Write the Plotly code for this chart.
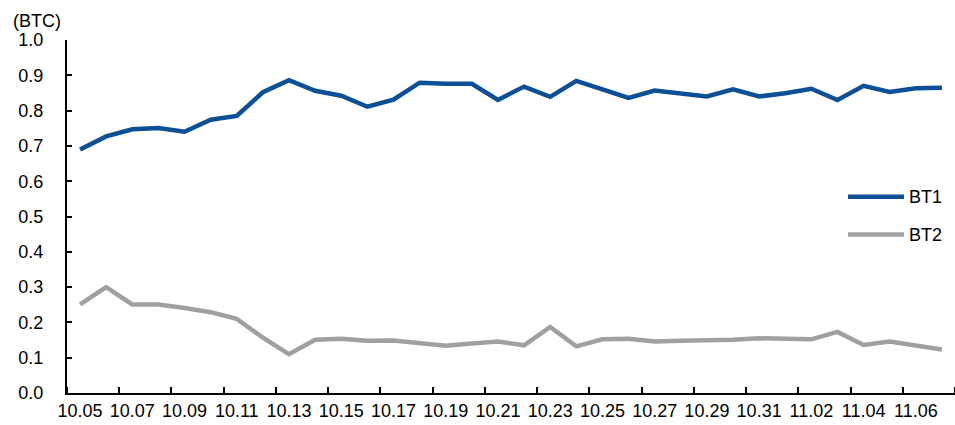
import plotly.graph_objects as go
import pandas as pd

# Daily dates, 10.05 through 11.07
dates = pd.date_range("2023-10-05", "2023-11-07", freq="D")

bt1 = [0.690, 0.727, 0.747, 0.751, 0.740, 0.774, 0.785, 0.852, 0.886, 0.856,
       0.842, 0.811, 0.831, 0.879, 0.876, 0.876, 0.830, 0.868, 0.839, 0.884,
       0.860, 0.836, 0.857, 0.849, 0.840, 0.860, 0.840, 0.849, 0.862, 0.830,
       0.870, 0.853, 0.863, 0.865]

bt2 = [0.251, 0.300, 0.251, 0.251, 0.241, 0.229, 0.210, 0.157, 0.110, 0.151,
       0.154, 0.148, 0.149, 0.142, 0.134, 0.140, 0.146, 0.135, 0.187, 0.132,
       0.152, 0.154, 0.146, 0.148, 0.149, 0.151, 0.155, 0.152, 0.152, 0.173,
       0.136, 0.146, 0.134, 0.123]

series_names = ["BT1", "BT2"]
series_colors = ["#0B4F97", "#A0A0A0"]

FONT = "Liberation Sans Narrow, Arial Narrow, Liberation Sans, Arial, sans-serif"
FS = 18
DAY_MS = 86400000

fig = go.Figure()
for name, vals, color in zip(series_names, [bt1, bt2], series_colors):
    fig.add_trace(go.Scatter(
        x=dates, y=vals, mode="lines", name=name,
        line=dict(color=color, width=4.5),
        showlegend=False,
    ))

# Hand-drawn legend on the right side of the plot area
legend_y = [0.556, 0.449]
for name, color, ly in zip(series_names, series_colors, legend_y):
    fig.add_shape(type="line", xref="paper", yref="paper",
                  x0=0.8795, x1=0.9426, y0=ly, y1=ly,
                  line=dict(color=color, width=4.5))
    fig.add_annotation(xref="paper", yref="paper", x=0.946, y=ly,
                       text=name, showarrow=False, xanchor="left",
                       yanchor="middle", font=dict(size=FS, color="black"))

# Unit label above the y axis
fig.add_annotation(xref="paper", yref="paper", x=-0.063, y=1.053,
                   text="(BTC)", showarrow=False, xanchor="left",
                   yanchor="middle", font=dict(size=FS, color="black"))

fig.update_layout(
    width=955, height=425,
    margin=dict(l=67, r=0, t=40, b=32),
    paper_bgcolor="white", plot_bgcolor="white",
    font=dict(family=FONT, size=FS, color="black"),
)

fig.update_xaxes(
    range=[dates[0] - pd.Timedelta(hours=12), dates[-1] + pd.Timedelta(hours=12)],
    tickmode="linear", tick0=dates[0], dtick=2 * DAY_MS,
    tickformat="%m.%d", ticks="",
    minor=dict(ticks="inside", ticklen=6, tickwidth=1.5, tickcolor="black",
               tickmode="linear", tick0=dates[1] + pd.Timedelta(hours=12),
               dtick=2 * DAY_MS, showgrid=False),
    showline=True, linecolor="black", linewidth=2,
    showgrid=False, zeroline=False,
    tickfont=dict(size=FS),
)

fig.update_yaxes(
    range=[0, 1.0], tickmode="linear", tick0=0, dtick=0.1,
    tickformat=".1f", ticks="inside", ticklen=5, tickwidth=1.5,
    tickcolor="black", ticklabelstandoff=18,
    showline=True, linecolor="black", linewidth=2,
    showgrid=False, zeroline=False,
    tickfont=dict(size=FS),
)

fig.write_html("out.html")
